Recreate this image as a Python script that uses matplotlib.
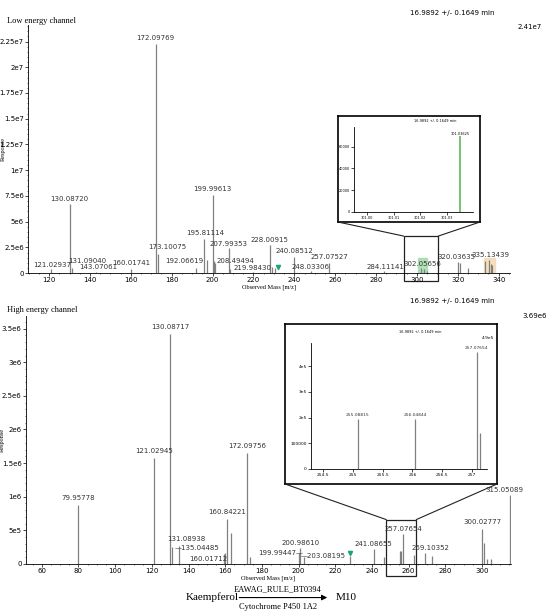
import matplotlib
matplotlib.use("Agg")
import matplotlib.pyplot as plt
from matplotlib.patches import Rectangle, ConnectionPatch, FancyArrowPatch

top_mz = [121.029, 130.087, 131.090, 143.071, 160.017, 172.098, 173.101, 192.066, 195.811, 197.5, 199.996, 200.5, 201.0,
          207.994, 208.495, 219.984, 228.009, 229.0, 230.5, 240.085, 248.033, 257.075, 284.111, 302.057, 303.5, 305.0,
          320.036, 321.0, 325.0, 333.5, 335.134, 336.2, 337.0]
top_int = [0.4e6, 6.7e6, 0.5e6, 0.1e6, 0.4e6, 2.23e7, 1.9e6, 0.5e6, 3.3e6, 1.3e6, 7.6e6, 1.2e6, 1.0e6,
           2.4e6, 0.4e6, 0.1e6, 2.7e6, 0.6e6, 0.5e6, 1.6e6, 0.2e6, 1.0e6, 0.2e6, 0.5e6, 0.4e6, 0.2e6,
           1.1e6, 1.0e6, 0.5e6, 1.2e6, 1.3e6, 0.9e6, 0.8e6]
top_labels = {121.029: "121.02937", 130.087: "130.08720", 131.090: "131.09040", 143.071: "143.07061", 160.017: "160.01741",
              172.098: "172.09769", 173.101: "173.10075", 192.066: "192.06619", 195.811: "195.81114", 199.996: "199.99613",
              207.994: "207.99353", 208.495: "208.49494", 219.984: "219.98430", 228.009: "228.00915", 240.085: "240.08512",
              248.033: "248.03306", 257.075: "257.07527", 284.111: "284.11141", 302.057: "302.05656", 320.036: "320.03635",
              335.134: "335.13439"}
top_label_pos = {121.029: (121.6, 0.45e6), 131.090: (138.5, 0.9e6), 143.071: (143.9, 0.3e6), 173.101: (178.0, 2.2e6),
                 192.066: (186.0, 0.9e6), 195.811: (196.6, 3.6e6), 207.994: (207.8, 2.5e6), 208.495: (211.0, 0.9e6),
                 219.984: (219.5, 0.25e6), 248.033: (248.0, 0.3e6), 284.111: (284.5, 0.3e6), 302.057: (302.7, 0.6e6),
                 320.036: (319.5, 1.3e6), 335.134: (336.0, 1.5e6)}

bot_mz = [79.958, 121.029, 130.087, 131.089, 135.045, 159.5, 160.017, 160.842, 163.0, 172.098, 173.5, 199.994, 200.986,
          203.082, 228.0, 241.087, 246.5, 255.088, 256.048, 257.077, 263.0, 269.104, 273.0, 300.028, 301.0, 303.0, 305.0, 315.051]
bot_int = [0.87e6, 1.58e6, 3.42e6, 0.25e6, 0.26e6, 0.15e6, 0.17e6, 0.67e6, 0.46e6, 1.65e6, 0.1e6, 0.17e6, 0.23e6,
           0.1e6, 0.12e6, 0.22e6, 0.1e6, 0.19e6, 0.19e6, 0.45e6, 0.14e6, 0.17e6, 0.12e6, 0.52e6, 0.31e6, 0.08e6, 0.08e6, 1.03e6]
bot_labels = {79.958: "79.95778", 121.029: "121.02945", 130.087: "130.08717", 131.089: "131.08938", 135.045: "—135.04485",
              160.017: "160.01712", 160.842: "160.84221", 172.098: "172.09756", 199.994: "199.99447—", 200.986: "200.98610",
              203.082: "—203.08195", 241.087: "241.08655", 257.077: "257.07654", 269.104: "269.10352", 300.028: "300.02777",
              315.051: "315.05089"}
bot_label_pos = {131.089: (138.6, 0.33e6), 135.045: (144.5, 0.2e6), 160.017: (151.0, 0.03e6), 199.994: (190.0, 0.12e6),
                 200.986: (201.0, 0.27e6), 203.082: (213.4, 0.08e6), 241.087: (240.6, 0.25e6), 257.077: (257.0, 0.48e6),
                 269.104: (271.7, 0.2e6), 315.051: (312.5, 1.06e6)}

ins1_mz = [301.035]
ins1_int = [70000]
ins2_mz = [255.088, 256.048, 257.077, 257.13]
ins2_int = [1.95e5, 1.95e5, 4.56e5, 1.4e5]
ins2_labels = ["255.08815", "256.04844", "257.07654"]

SERIF = ["Liberation Serif", "DejaVu Serif"]
fig = plt.figure(figsize=(5.5, 6.11), dpi=100)
GRAY = "#808080"

def style(ax, fs=5):
    for s in ["top", "right"]:
        ax.spines[s].set_visible(False)
    ax.tick_params(labelsize=fs, length=2, width=0.5, pad=1)
    ax.tick_params(which="minor", length=1, width=0.4)
    for s in ["left", "bottom"]:
        ax.spines[s].set_linewidth(0.6)

ax1 = fig.add_axes([0.051, 0.553, 0.876, 0.406])
ax1.vlines(top_mz, 0, top_int, color=GRAY, lw=0.9)
ax1.set_xlim(109.7, 345.5)
ax1.set_ylim(0, 2.41e7)
ax1.set_xticks(range(120, 341, 20))
ax1.set_yticks([0, 2.5e6, 5e6, 7.5e6, 1e7, 1.25e7, 1.5e7, 1.75e7, 2e7, 2.25e7])
ax1.set_yticklabels(["0", "2.5e6", "5e6", "7.5e6", "1e7", "1.25e7", "1.5e7", "1.75e7", "2e7", "2.25e7"])
ax1.minorticks_on()
style(ax1)
ax1.axvspan(300.5, 305, ymax=0.06, color="#9ed9a6", alpha=0.8)
ax1.axvspan(333, 338, ymax=0.06, color="#f3d7ae", alpha=0.8)
ax1.plot([232], [0.55e6], marker="v", color="#1aa37a", ms=3)
for mz, it in zip(top_mz, top_int):
    if mz in top_labels:
        x, y = top_label_pos.get(mz, (mz, it + 0.25e6))
        ax1.text(x, y, top_labels[mz], fontsize=5, ha="center", va="bottom", color="#333333")
ax1.set_xlabel("Observed Mass [m/z]", fontsize=4.5, family=SERIF, labelpad=1)
ax1.set_ylabel("Response", fontsize=4.5, family=SERIF)
ax1.yaxis.set_label_coords(-0.047, 0.5)
fig.text(0.013, 0.962, "Low energy channel", fontsize=6, family=SERIF)
fig.text(0.9, 0.975, "16.9892 +/- 0.1649 min", fontsize=5, ha="right")
fig.text(0.985, 0.952, "2.41e7", fontsize=5, ha="right")

r1 = Rectangle((293.5, -0.8e6), 17, 4.4e6, fill=False, lw=0.9, color="#222222", clip_on=False)
ax1.add_patch(r1)
box1 = fig.add_axes([338/550, 1 - 222/611, 142/550, 106/611])
box1.set_xticks([]); box1.set_yticks([])
for s in box1.spines.values():
    s.set_linewidth(1.2)
for (xb, xr) in [(0, 293.5), (1, 310.5)]:
    fig.add_artist(ConnectionPatch((xb, 0), (xr, 3.6e6), coordsA=box1.transAxes, coordsB=ax1.transData, lw=0.8, color="#222222"))
in1 = fig.add_axes([354/550, 1 - 212/611, 119/550, 85/611])
in1.vlines(ins1_mz, 0, ins1_int, color="#5cb85c", lw=1.2)
in1.set_xlim(300.995, 301.04)
in1.set_ylim(0, 78100)
in1.set_xticks([301.0, 301.01, 301.02, 301.03])
in1.set_yticks([0, 20000, 40000, 60000])
style(in1, fs=2.5)
in1.text(301.035, 71000, "301.03625", fontsize=2.5, ha="center")
in1.text(0.5, 1.06, "16.9892 +/- 0.1649 min", fontsize=2.5, transform=in1.transAxes)

ax2 = fig.add_axes([0.047, 0.077, 0.882, 0.406])
ax2.vlines(bot_mz, 0, bot_int, color=GRAY, lw=0.9)
ax2.set_xlim(51.3, 315.8)
ax2.set_ylim(0, 3.69e6)
ax2.set_xticks(range(60, 301, 20))
ax2.set_yticks([0, 5e5, 1e6, 1.5e6, 2e6, 2.5e6, 3e6, 3.5e6])
ax2.set_yticklabels(["0", "5e5", "1e6", "1.5e6", "2e6", "2.5e6", "3e6", "3.5e6"])
ax2.minorticks_on()
style(ax2)
ax2.plot([228], [0.16e6], marker="v", color="#1aa37a", ms=3)
for mz, it in zip(bot_mz, bot_int):
    if mz in bot_labels:
        x, y = bot_label_pos.get(mz, (mz, it + 0.06e6))
        ax2.text(x, y, bot_labels[mz], fontsize=5, ha="center", va="bottom", color="#333333")
ax2.set_xlabel("Observed Mass [m/z]", fontsize=4.5, family=SERIF, labelpad=1)
ax2.set_ylabel("Response", fontsize=4.5, family=SERIF)
ax2.yaxis.set_label_coords(-0.043, 0.5)
fig.text(0.013, 0.49, "High energy channel", fontsize=6, family=SERIF)
fig.text(0.9, 0.504, "16.9892 +/- 0.1649 min", fontsize=5, ha="right")
fig.text(0.995, 0.48, "3.69e6", fontsize=5, ha="right")

r2 = Rectangle((247.8, -0.18e6), 16.4, 0.84e6, fill=False, lw=0.9, color="#222222", clip_on=False)
ax2.add_patch(r2)
box2 = fig.add_axes([285/550, 1 - 484/611, 212/550, 160/611])
box2.set_xticks([]); box2.set_yticks([])
for s in box2.spines.values():
    s.set_linewidth(1.2)
for (xb, xr) in [(0, 247.8), (1, 264.2)]:
    fig.add_artist(ConnectionPatch((xb, 0), (xr, 0.66e6), coordsA=box2.transAxes, coordsB=ax2.transData, lw=0.8, color="#222222"))
in2 = fig.add_axes([311/550, 1 - 469/611, 176/550, 126/611])
in2.vlines(ins2_mz, 0, ins2_int, color=GRAY, lw=0.9)
in2.set_xlim(254.3, 257.25)
in2.set_ylim(0, 4.9e5)
in2.set_xticks([254.5, 255, 255.5, 256, 256.5, 257])
in2.set_xticklabels(["254.5", "255", "255.5", "256", "256.5", "257"])
in2.set_yticks([0, 1e5, 2e5, 3e5, 4e5])
in2.set_yticklabels(["0", "100000", "2e5", "3e5", "4e5"])
style(in2, fs=3.2)
for mz, it, lab in zip(ins2_mz, ins2_int, ins2_labels):
    in2.text(mz, it + 0.08e5, lab, fontsize=3.2, ha="center", va="bottom", color="#333333",
             bbox=dict(fc="white", ec="none", pad=0.2) if lab == "257.07654" else None)
in2.text(1.04, 1.02, "4.9e5", fontsize=3.2, ha="right", va="bottom", transform=in2.transAxes)
in2.text(0.5, 1.08, "16.9892 +/- 0.1649 min", fontsize=2.5, transform=in2.transAxes)

fig.text(0.385, 0.022, "Kaempferol", fontsize=8, family=SERIF, ha="center", va="center")
fig.text(0.505, 0.036, "EAWAG_RULE_BT0394", fontsize=6, family=SERIF, ha="center", va="center")
fig.text(0.505, 0.006, "Cytochrome P450 1A2", fontsize=6, family=SERIF, ha="center", va="center")
fig.add_artist(FancyArrowPatch((0.43, 0.022), (0.6, 0.022), transform=fig.transFigure,
                               arrowstyle="-|>", mutation_scale=8, lw=0.8, color="black"))
fig.text(0.61, 0.022, "M10", fontsize=8, family=SERIF, ha="left", va="center")

fig.savefig("out.png", dpi=100)
